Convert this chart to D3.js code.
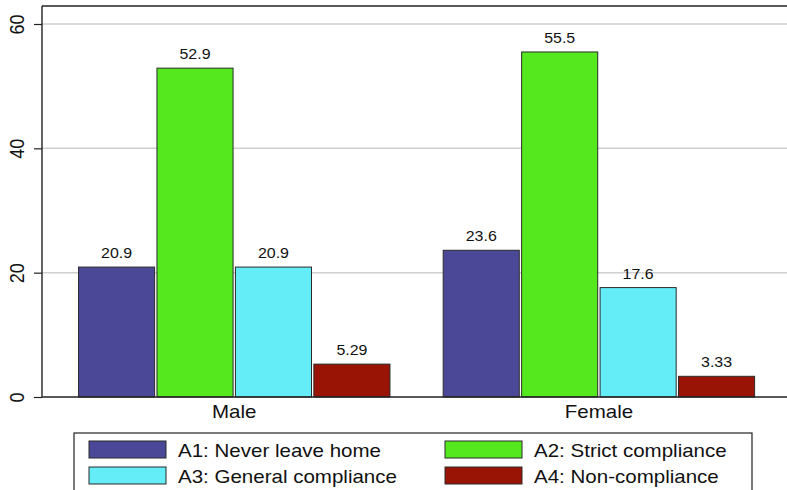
<!DOCTYPE html>
<html>
<head>
<meta charset="utf-8">
<script src="https://cdn.jsdelivr.net/npm/d3@7"></script>
<style>
  html, body { margin: 0; padding: 0; background: #fff; }
  svg { display: block; }
  text { font-family: "Liberation Sans", Arial, Helvetica, sans-serif; fill: #111; }
</style>
</head>
<body>
<svg id="chart" width="787" height="490"></svg>
<script>
// ---- data ----
const categories = ["Male", "Female"];
const seriesNames = ["A1: Never leave home", "A2: Strict compliance", "A3: General compliance", "A4: Non-compliance"];
const seriesColors = ["#4b4898", "#56e81f", "#64ecf7", "#9a1406"];
const maleValues = [20.9, 52.9, 20.9, 5.29];
const femaleValues = [23.6, 55.5, 17.6, 3.33];
const valueLabels = [["20.9", "52.9", "20.9", "5.29"], ["23.6", "55.5", "17.6", "3.33"]];
const yTicks = [0, 20, 40, 60];

const values = [maleValues, femaleValues];
const SX = 1.14; // horizontal stretch of text in the reference

const svg = d3.select("#chart");
const plotLeft = 42, plotRight = 787, plotTop = 6;

const y = d3.scaleLinear().domain([0, 60]).range([397, 24]);
const x0 = d3.scaleBand().domain(categories).range([plotLeft, plotRight])
  .paddingInner(0.146).paddingOuter(0.0945).align(0.53);
const x1 = d3.scaleBand().domain(d3.range(seriesNames.length)).range([0, x0.bandwidth()])
  .paddingInner(0.03).paddingOuter(0);

// grid lines
svg.append("g").selectAll("line").data(yTicks.filter(d => d > 0)).join("line")
  .attr("x1", plotLeft).attr("x2", plotRight)
  .attr("y1", d => y(d)).attr("y2", d => y(d))
  .attr("stroke", "#cfcfcf").attr("stroke-width", 1.5);

// top frame line
svg.append("line").attr("x1", plotLeft).attr("x2", plotRight)
  .attr("y1", plotTop).attr("y2", plotTop)
  .attr("stroke", "#222").attr("stroke-width", 1.4);

// bars
const groups = svg.append("g").selectAll("g").data(categories).join("g")
  .attr("transform", d => `translate(${x0(d)},0)`);

groups.each(function(cat, ci) {
  const g = d3.select(this);
  const vals = values[ci];
  g.selectAll("rect").data(vals).join("rect")
    .attr("x", (d, i) => x1(i))
    .attr("width", x1.bandwidth())
    .attr("y", d => y(d))
    .attr("height", d => y(0) - y(d))
    .attr("fill", (d, i) => seriesColors[i])
    .attr("stroke", "#2a2a2a").attr("stroke-width", 1);
  g.selectAll("text").data(vals).join("text")
    .attr("transform", (d, i) => `translate(${x1(i) + x1.bandwidth() / 2},${y(d) - 9}) scale(${SX},1)`)
    .attr("text-anchor", "middle")
    .attr("font-size", 14)
    .text((d, i) => valueLabels[ci][i]);
});

// y axis
const yAxis = d3.axisLeft(y).tickValues(yTicks).tickSize(8).tickFormat(d3.format("d"));
const ya = svg.append("g").attr("transform", `translate(${plotLeft},0)`).call(yAxis);
ya.select(".domain").attr("d", `M0,${plotTop}V${y(0)}`).attr("stroke", "#222").attr("stroke-width", 1.4);
ya.selectAll(".tick line").attr("stroke", "#222").attr("stroke-width", 1.2);
ya.selectAll(".tick text").remove();
ya.selectAll(".tick").append("text")
  .attr("transform", `translate(-18,0) scale(${SX},1) rotate(-90)`)
  .attr("text-anchor", "middle")
  .attr("font-size", 18)
  .attr("fill", "#111")
  .attr("font-family", "Liberation Sans, Arial, sans-serif")
  .text(d => d);

// x axis
const xAxis = d3.axisBottom(x0).tickSize(0).tickPadding(0);
const xa = svg.append("g").attr("transform", `translate(0,${y(0)})`).call(xAxis);
xa.select(".domain").attr("d", `M${plotLeft},0H${plotRight}`).attr("stroke", "#222").attr("stroke-width", 1.4);
xa.selectAll(".tick text").remove();
xa.selectAll(".tick").append("text")
  .attr("transform", `translate(0,21) scale(${SX},1)`)
  .attr("text-anchor", "middle")
  .attr("font-size", 18)
  .attr("fill", "#111")
  .attr("font-family", "Liberation Sans, Arial, sans-serif")
  .text(d => d);

// legend
const legend = svg.append("g");
legend.append("rect").attr("x", 74).attr("y", 433).attr("width", 678).attr("height", 70)
  .attr("fill", "#fff").attr("stroke", "#222").attr("stroke-width", 1.2);
const colX = [89, 445], rowY = [441, 467];
seriesNames.forEach((name, i) => {
  const cx = colX[i % 2], ry = rowY[Math.floor(i / 2)];
  legend.append("rect").attr("x", cx).attr("y", ry).attr("width", 77).attr("height", 17)
    .attr("fill", seriesColors[i]).attr("stroke", "#2a2a2a").attr("stroke-width", 1);
  legend.append("text")
    .attr("transform", `translate(${cx + 89},${ry + 16}) scale(${SX},1)`)
    .attr("font-size", 18)
    .text(name);
});
</script>
</body>
</html>
